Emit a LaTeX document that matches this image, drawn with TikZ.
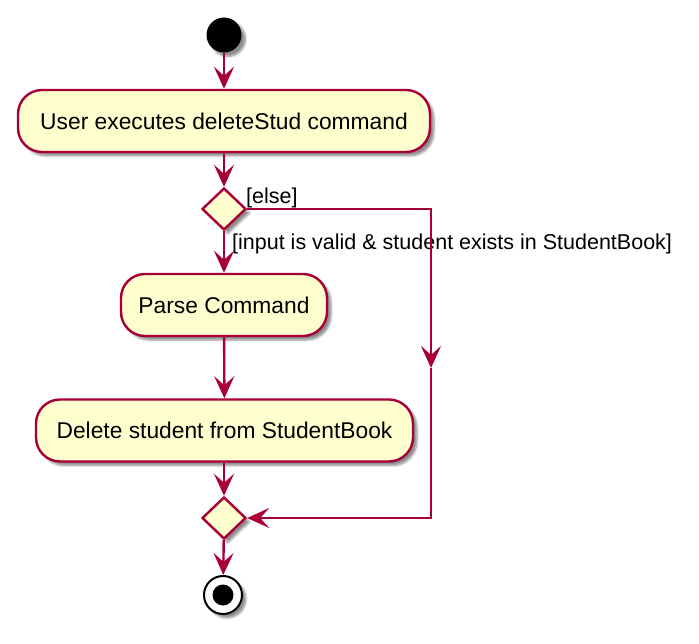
\documentclass[tikz,border=0pt]{standalone}
\usepackage{fontspec}
\setmainfont{Liberation Sans}
\usetikzlibrary{arrows.meta,shapes.geometric,shadows.blur}
\definecolor{pborder}{HTML}{A80036}
\definecolor{pfill}{HTML}{FEFECE}
\tikzset{
  shad/.style={blur shadow={shadow xshift=4pt,shadow yshift=-4pt,shadow blur steps=6,shadow opacity=45}},
  actbox/.style={rounded corners=24pt,draw=pborder,fill=pfill,line width=2.4pt,
    minimum height=62pt,inner sep=0pt,font=\fontsize{22.8}{27}\selectfont,shad},
  decis/.style={diamond,draw=pborder,fill=pfill,line width=2.4pt,minimum width=44pt,
    minimum height=42pt,inner sep=0pt,shad},
  arr/.style={draw=pborder,line width=2.4pt,-{Stealth[length=22pt,width=20pt,inset=9pt]}},
  lbl/.style={font=\fontsize{21.5}{25}\selectfont,inner sep=0pt,anchor=west},
}
\begin{document}
\begin{tikzpicture}[x=1pt,y=-1pt]
\useasboundingbox (0,0) rectangle (699,644);
\node[circle,fill=black,minimum size=35pt,inner sep=0pt,shad] (start) at (224,35) {};
\node[actbox,minimum width=412pt] (act1) at (224,121) {User executes deleteStud command};
\node[decis] (d1) at (224,209) {};
\node[actbox,minimum width=206pt] (parse) at (224,305) {Parse Command};
\node[actbox,minimum width=377pt] (del) at (224.5,430.5) {Delete student from StudentBook};
\node[decis] (d2) at (224,518) {};
\node[circle,draw=black,fill=white,line width=2pt,minimum size=38pt,inner sep=0pt,shad] (end) at (223,595) {};
\node[circle,fill=black,minimum size=21pt,inner sep=0pt] (endin) at (end.center) {};
\coordinate (cm) at (431,368);
\node[lbl] (lelse) at (246,198) {[else]};
\node[lbl] (lvalid) at (232,244) {[input is valid \& student exists in StudentBook]};
\draw[arr] (start) -- (act1);
\draw[arr] (act1) -- (d1);
\draw[arr] (d1) -- (parse);
\draw[arr] (parse) -- (del);
\draw[arr] (del.south -| d2) -- (d2);
\draw[arr] (d2) -- (end);
\draw[arr] (d1.east) -| (cm);
\draw[arr] (cm) |- (d2.east);
\end{tikzpicture}
\end{document}
